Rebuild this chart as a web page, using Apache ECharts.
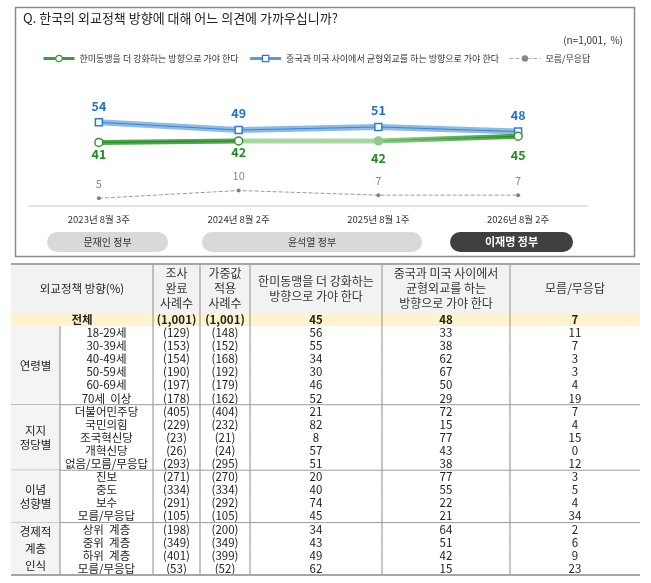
<!DOCTYPE html>
<html><head><meta charset="utf-8">
<script src="https://cdn.jsdelivr.net/npm/echarts@6/dist/echarts.min.js"></script>
<style>html,body{margin:0;padding:0;background:#fff}#c{width:651px;height:583px}</style>
</head><body><div id="c"></div>
<script>
// ---------- DATA ----------
const periods = ['2023년 8월 3주', '2024년 8월 2주', '2025년 8월 1주', '2026년 8월 2주'];
const seriesNames = ['한미동맹을 더 강화하는 방향으로 가야 한다', '중국과 미국 사이에서 균형외교를 하는 방향으로 가야 한다', '모름/무응답'];
const allianceTrend = [41, 42, 42, 45];
const balanceTrend = [54, 49, 51, 48];
const dkTrend = [5, 10, 7, 7];
const governments = ['문재인 정부', '윤석열 정부', '이재명 정부'];

const tableHeaders = ['외교정책 방향(%)', '조사\n완료\n사례수', '가중값\n적용\n사례수', '한미동맹을 더 강화하는\n방향으로 가야 한다', '중국과 미국 사이에서\n균형외교를 하는\n방향으로 가야 한다', '모름/무응답'];
const totalLabel = '전체';
const totalCompleted = '1,001';
const totalWeighted = '1,001';
const totalAlliance = 45;
const totalBalance = 48;
const totalDk = 7;
const groupNames = ['연령별', '지지\n정당별', '이념\n성향별', '경제적\n계층\n인식'];
const groupSizes = [6, 5, 4, 4];
const subgroups = ['18-29세', '30-39세', '40-49세', '50-59세', '60-69세', '70세  이상', '더불어민주당', '국민의힘', '조국혁신당', '개혁신당', '없음/모름/무응답', '진보', '중도', '보수', '모름/무응답', '상위  계층', '중위  계층', '하위  계층', '모름/무응답'];
const completedN = [129, 153, 154, 190, 197, 178, 405, 229, 23, 26, 293, 271, 334, 291, 105, 198, 349, 401, 53];
const weightedN = [148, 152, 168, 192, 179, 162, 404, 232, 21, 24, 295, 270, 334, 292, 105, 200, 349, 399, 52];
const allianceVals = [56, 55, 34, 30, 46, 52, 21, 82, 8, 57, 51, 20, 40, 74, 45, 34, 43, 49, 62];
const balanceVals = [33, 38, 62, 67, 50, 29, 72, 15, 77, 43, 38, 77, 55, 22, 21, 64, 51, 42, 15];
const dkVals = [11, 7, 3, 3, 4, 19, 7, 4, 15, 0, 12, 3, 5, 4, 34, 2, 6, 9, 23];

// ---------- STYLE / LAYOUT ----------
const FONT = '"Noto Sans CJK KR", "Noto Sans", sans-serif';
const COLS = [0, 49, 142, 189, 239, 371, 499, 629];   // table column edges (px within table grid)
const HEADER_UNITS = 3.74;                             // header height in row units
const greenLabelGap = [1, 0, 6, 8];
const groupLineHeights = [14, 14, 14, 17];
const LINE_C = '#8c8c8c';

const chart = echarts.init(document.getElementById('c'), null, {renderer: 'canvas'});

const G = echarts.graphic;
const greenBand = new G.LinearGradient(0, 0, 1, 0, [
  {offset: 0, color: '#4da74d'}, {offset: 0.333, color: '#4da74d'},
  {offset: 0.334, color: '#acd9a6'}, {offset: 0.666, color: '#acd9a6'},
  {offset: 0.667, color: '#8ccb86'}, {offset: 1, color: '#3f9f3f'}]);
const greenCore = new G.LinearGradient(0, 0, 1, 0, [
  {offset: 0, color: '#1f8a1f'}, {offset: 0.333, color: '#1f8a1f'},
  {offset: 0.334, color: '#9fd298'}, {offset: 0.666, color: '#9fd298'},
  {offset: 0.667, color: '#5fb35a'}, {offset: 1, color: '#1f8a1f'}]);

// table row units
const rowData = [[0, 0, HEADER_UNITS], [0, HEADER_UNITS, HEADER_UNITS + 1]];
subgroups.forEach((s, i) => rowData.push([0, HEADER_UNITS + 1 + i, HEADER_UNITS + 2 + i]));
const groupData = [];
let acc = HEADER_UNITS + 1;
groupSizes.forEach(n => { groupData.push([0, acc, acc + n]); acc += n; });

function txt(text, x, y, size, weight, extra) {
  return {type: 'text', style: Object.assign({text: String(text), x: x, y: y, align: 'center', verticalAlign: 'middle',
    fontSize: size, fontWeight: weight || 'normal', fontFamily: FONT, fill: '#222'}, extra || {})};
}
function vline(x, y0, y1, w, c) {
  return {type: 'line', shape: {x1: x, y1: y0, x2: x, y2: y1}, style: {stroke: c || LINE_C, lineWidth: w || 1}};
}
function hline(x0, x1, y, w, c) {
  return {type: 'line', shape: {x1: x0, y1: y, x2: x1, y2: y}, style: {stroke: c || LINE_C, lineWidth: w || 1}};
}

function renderRow(params, api) {
  const idx = params.dataIndex;
  const y0 = api.coord([0, api.value(1)])[1];
  const y1 = api.coord([0, api.value(2)])[1];
  const X = k => api.coord([COLS[k], 0])[0];
  const mid = (a, b) => (X(a) + X(b)) / 2;
  const ym = (y0 + y1) / 2;
  const ch = [];
  if (idx === 0) {
    ch.push({type: 'rect', shape: {x: X(0), y: y0, width: X(7) - X(0), height: y1 - y0}, style: {fill: '#f2f2f2'}});
    ch.push(txt(tableHeaders[0], mid(0, 2), ym, 11.5));
    for (let c = 1; c < 6; c++) ch.push(txt(tableHeaders[c], mid(c + 1, c + 2), ym, 12, 'normal', {lineHeight: 15, fill: '#333'}));
    for (let c = 2; c <= 6; c++) ch.push(vline(X(c), y0, y1));
    ch.push(hline(X(0), X(7), y0, 2, '#a6a6a6'));
  } else if (idx === 1) {
    ch.push({type: 'rect', shape: {x: X(0), y: y0, width: X(7) - X(0), height: y1 - y0}, style: {fill: '#fff2cc'}});
    const vals = [totalLabel, '(' + totalCompleted + ')', '(' + totalWeighted + ')', totalAlliance, totalBalance, totalDk];
    ch.push(txt(vals[0], mid(0, 2), ym, 11.5, 'bold'));
    for (let c = 1; c < 6; c++) ch.push(txt(vals[c], mid(c + 1, c + 2), ym, 11.5, 'bold'));
    for (let c = 2; c <= 6; c++) ch.push(vline(X(c), y0, y1));
  } else {
    const i = idx - 2;
    const vals = [subgroups[i], '(' + completedN[i] + ')', '(' + weightedN[i] + ')', allianceVals[i], balanceVals[i], dkVals[i]];
    for (let c = 0; c < 6; c++) ch.push(txt(vals[c], mid(c + 1, c + 2), ym, 11.5));
    for (let c = 2; c <= 6; c++) ch.push(vline(X(c), y0, y1));
  }
  return {type: 'group', children: ch};
}

function renderGroup(params, api) {
  const idx = params.dataIndex;
  const y0 = api.coord([0, api.value(1)])[1];
  const y1 = api.coord([0, api.value(2)])[1];
  const X = k => api.coord([COLS[k], 0])[0];
  const ch = [];
  ch.push({type: 'rect', shape: {x: X(0), y: y0, width: X(1) - X(0), height: y1 - y0}, style: {fill: '#f4f4f4'}});
  ch.push(txt(groupNames[idx], (X(0) + X(1)) / 2, (y0 + y1) / 2, 11.5, 'normal', {lineHeight: groupLineHeights[idx]}));
  ch.push(vline(X(1), y0, y1));
  if (idx === groupNames.length - 1) ch.push(hline(X(0), X(7), y1, 2, '#a6a6a6'));
  else ch.push(hline(X(0), X(7), y1, 1, '#9a9a9a'));
  return {type: 'group', children: ch};
}

const pillDefs = [
  {x: 47, w: 121, fill: '#d9d9d9', color: '#333', weight: 'normal'},
  {x: 202, w: 220, fill: '#d9d9d9', color: '#333', weight: 'normal'},
  {x: 450, w: 123, fill: '#404040', color: '#fff', weight: 'bold'}
];
const graphics = [
  {type: 'rect', left: 13, top: 5, shape: {x: 0, y: 0, width: 619, height: 249}, style: {fill: 'none', stroke: '#8a8a8a', lineWidth: 1.5}, silent: true, z: -1}
];
pillDefs.forEach((p, i) => {
  graphics.push({type: 'rect', shape: {x: p.x, y: 232, width: p.w, height: 20, r: 10}, style: {fill: p.fill}, silent: true});
  graphics.push({type: 'text', style: {text: governments[i], x: p.x + p.w / 2, y: 242, align: 'center', verticalAlign: 'middle',
    fontSize: p.weight === 'bold' ? 11 : 10, fontWeight: p.weight, fill: p.color, fontFamily: FONT}, silent: true});
});

const option = {
  animation: false,
  textStyle: {fontFamily: FONT},
  title: [
    {text: 'Q. 한국의 외교정책 방향에 대해 어느 의견에 가까우십니까?', left: 18, top: 7,
      textStyle: {fontSize: 13, fontWeight: 'normal', color: '#222', fontFamily: FONT}},
    {text: '(n=1,001,  %)', right: 23, top: 30, textStyle: {fontSize: 10, fontWeight: 'normal', color: '#333', fontFamily: FONT}}
  ],
  legend: {
    left: 37, top: 49, itemWidth: 31, itemHeight: 8, itemGap: 10,
    textStyle: {fontSize: 9, color: '#333', fontFamily: FONT},
    data: [
      {name: seriesNames[0], lineStyle: {color: '#3a9e3a', width: 3}, itemStyle: {color: '#fff', borderColor: '#2e9a2e', borderWidth: 1.2}},
      {name: seriesNames[1], lineStyle: {color: '#5b9bd8', width: 3}, itemStyle: {color: '#fff', borderColor: '#2a7ccf', borderWidth: 1.2}},
      {name: seriesNames[2], lineStyle: {color: '#aaa', width: 1, type: 'dashed'}, itemStyle: {color: '#888'}}
    ]
  },
  grid: [
    {left: 29, width: 559, top: 113, height: 93},
    {left: 11, width: 629, top: 264, height: 311}
  ],
  xAxis: [
    {type: 'category', data: periods, gridIndex: 0, boundaryGap: true,
      axisLine: {lineStyle: {color: '#dcdcdc', width: 1.5}}, axisTick: {show: false},
      axisLabel: {fontSize: 9.5, color: '#333', margin: 9, fontFamily: FONT}},
    {type: 'value', gridIndex: 1, min: 0, max: 629, show: false}
  ],
  yAxis: [
    {type: 'value', gridIndex: 0, min: 0, max: 60, show: false},
    {type: 'value', gridIndex: 1, min: 0, max: HEADER_UNITS + subgroups.length + 1, inverse: true, show: false}
  ],
  graphic: graphics,
  series: [
    {type: 'line', name: '_blueBand', data: balanceTrend, symbol: 'none', silent: true, z: 2,
      lineStyle: {width: 6, color: '#8dbbe6'}, emphasis: {disabled: true}},
    {type: 'line', name: '_greenBand', data: allianceTrend, symbol: 'none', silent: true, z: 2,
      lineStyle: {width: 5, color: greenBand}, emphasis: {disabled: true}},
    {type: 'line', name: seriesNames[2], data: dkTrend, symbol: 'circle', symbolSize: 4, z: 3,
      lineStyle: {width: 1, type: 'dashed', color: '#9a9a9a'}, itemStyle: {color: '#808080'},
      label: {show: true, position: 'top', distance: 7, fontSize: 11, color: '#8c8c8c', fontFamily: FONT},
      emphasis: {disabled: true}},
    {type: 'line', name: seriesNames[1], data: balanceTrend, symbol: 'rect', symbolSize: 7, z: 4,
      lineStyle: {width: 1, color: '#3a84d3'}, itemStyle: {color: '#fff', borderColor: '#2a7ccf', borderWidth: 1.5},
      label: {show: true, position: 'top', distance: 6, fontSize: 12.5, fontWeight: 'bold', color: '#1d72c6', fontFamily: FONT},
      emphasis: {disabled: true}},
    {type: 'line', name: seriesNames[0], z: 5,
      data: allianceTrend.map((v, i) => {
        const d = {value: v, label: {distance: greenLabelGap[i]}};
        if (i === 2) d.itemStyle = {color: '#8fcc88', borderColor: '#8fcc88'};
        return d;
      }),
      symbol: 'circle', symbolSize: 8,
      lineStyle: {width: 1, color: greenCore}, itemStyle: {color: '#fff', borderColor: '#2e9a2e', borderWidth: 1.5},
      label: {show: true, position: 'bottom', fontSize: 12.5, fontWeight: 'bold', color: '#1e8c1e', fontFamily: FONT},
      emphasis: {disabled: true}},
    {type: 'custom', name: '_rows', xAxisIndex: 1, yAxisIndex: 1, data: rowData, encode: {x: 0, y: [1, 2]},
      renderItem: renderRow, silent: true, clip: false, z: 1},
    {type: 'custom', name: '_groups', xAxisIndex: 1, yAxisIndex: 1, data: groupData, encode: {x: 0, y: [1, 2]},
      renderItem: renderGroup, silent: true, clip: false, z: 2}
  ]
};
chart.setOption(option);
</script></body></html>
